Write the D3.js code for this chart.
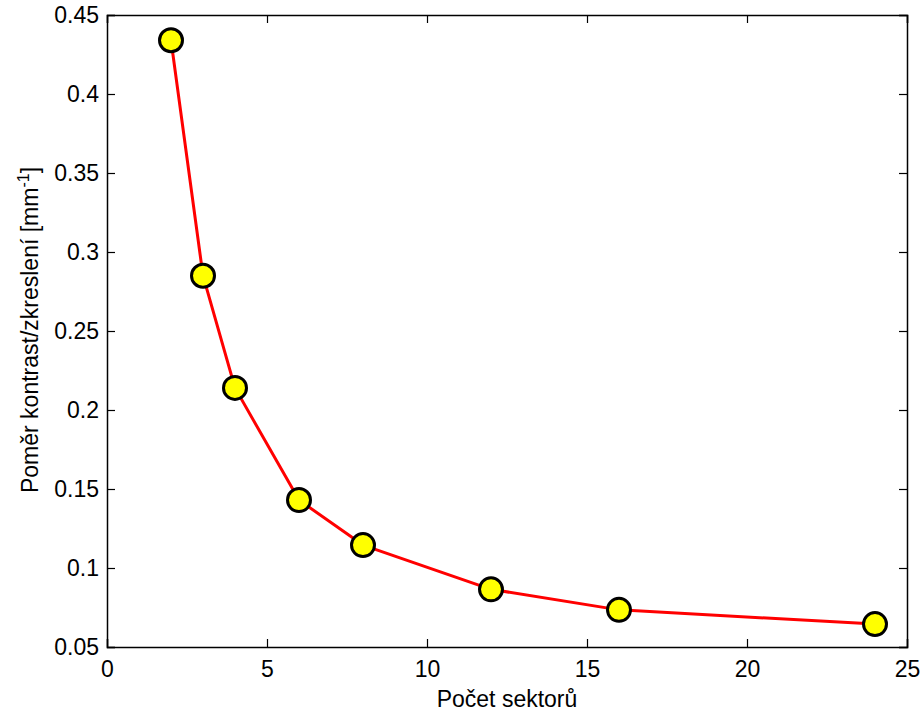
<!DOCTYPE html>
<html>
<head>
<meta charset="utf-8">
<script src="https://cdn.jsdelivr.net/npm/d3@7"></script>
<style>
  html, body { margin: 0; padding: 0; background: #fff; }
  text { font-family: "Liberation Sans", Arial, sans-serif; }
</style>
</head>
<body>
<svg id="chart" width="920" height="715"></svg>
<script>
// Number of sectors vs. contrast/distortion ratio
const sectors = [2, 3, 4, 6, 8, 12, 16, 24];
const ratio = [0.434, 0.285, 0.214, 0.143, 0.1145, 0.0865, 0.0735, 0.0645];
const xTicks = [0, 5, 10, 15, 20, 25];
const yTicks = [0.05, 0.1, 0.15, 0.2, 0.25, 0.3, 0.35, 0.4, 0.45];

const svg = d3.select("#chart");
const m = { left: 107, right: 907, top: 15, bottom: 647 };

const x = d3.scaleLinear().domain([0, 25]).range([m.left, m.right]);
const y = d3.scaleLinear().domain([0.05, 0.45]).range([m.bottom, m.top]);

const tickLen = 8;
const fs = 23;

// Axes with inward ticks on all four sides
const gB = svg.append("g").attr("transform", `translate(0,${m.bottom})`)
  .call(d3.axisBottom(x).tickValues(xTicks).tickSize(-tickLen).tickPadding(14).tickFormat(d3.format("d")));
const gT = svg.append("g").attr("transform", `translate(0,${m.top})`)
  .call(d3.axisTop(x).tickValues(xTicks).tickSize(-tickLen).tickFormat(""));
const gL = svg.append("g").attr("transform", `translate(${m.left},0)`)
  .call(d3.axisLeft(y).tickValues(yTicks).tickSize(-tickLen).tickPadding(8).tickFormat(d => String(+d.toFixed(2))));
const gR = svg.append("g").attr("transform", `translate(${m.right},0)`)
  .call(d3.axisRight(y).tickValues(yTicks).tickSize(-tickLen).tickFormat(""));

[gB, gT, gL, gR].forEach(g => {
  g.select(".domain").attr("stroke", "#000").attr("stroke-width", 1.5);
  g.selectAll(".tick line").attr("stroke", "#000").attr("stroke-width", 1.2);
  g.selectAll(".tick text").attr("fill", "#000").attr("font-size", fs)
    .attr("font-family", "'Liberation Sans', Arial, sans-serif");
});

// Polyline through the points
const line = d3.line().x((d, i) => x(sectors[i])).y(d => y(d));
svg.append("path").datum(ratio)
  .attr("d", line)
  .attr("fill", "none").attr("stroke", "#ff0000").attr("stroke-width", 3)
  .attr("stroke-linejoin", "round");

// Markers
svg.selectAll("circle.pt").data(ratio).join("circle")
  .attr("class", "pt")
  .attr("cx", (d, i) => x(sectors[i]))
  .attr("cy", d => y(d))
  .attr("r", 11.5)
  .attr("fill", "#ffff00").attr("stroke", "#000").attr("stroke-width", 3);

// Axis titles
svg.append("text")
  .attr("x", (m.left + m.right) / 2).attr("y", 707)
  .attr("text-anchor", "middle").attr("font-size", fs).attr("fill", "#000")
  .text("Počet sektorů");

const yl = svg.append("text")
  .attr("transform", `translate(38,330) rotate(-90)`)
  .attr("text-anchor", "middle").attr("font-size", fs).attr("fill", "#000");
yl.append("tspan").text("Poměr kontrast/zkreslení [mm");
yl.append("tspan").attr("dy", -9).attr("font-size", 16).text("-1");
yl.append("tspan").attr("dy", 9).text("]");
</script>
</body>
</html>
